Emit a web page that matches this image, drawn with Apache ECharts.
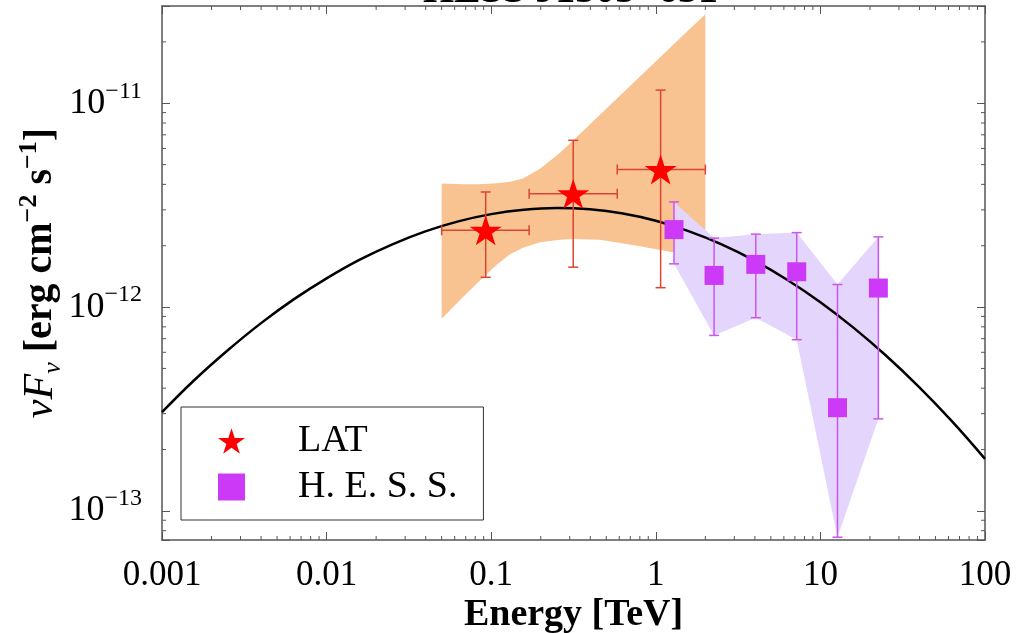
<!DOCTYPE html>
<html>
<head>
<meta charset="utf-8">
<script src="https://cdn.jsdelivr.net/npm/echarts@6/dist/echarts.min.js"></script>
<style>
  html, body { margin: 0; padding: 0; background: #fff; }
  #main { width: 1025px; height: 633px; }
</style>
</head>
<body>
<div id="main"></div>
<script>
// Fermi-LAT points: energy [TeV], flux, error bar ends, energy bin edges
var latE = [0.0926, 0.315, 1.07];
var latF = [2.38e-12, 3.60e-12, 4.73e-12];
var latHi = [3.67e-12, 6.58e-12, 1.16e-11];
var latLo = [1.40e-12, 1.57e-12, 1.245e-12];
var latEmin = [0.050, 0.170, 0.583];
var latEmax = [0.170, 0.583, 2.0];

// H.E.S.S. points
var hessE = [1.29, 2.26, 4.05, 7.18, 12.7, 22.5];
var hessF = [2.40e-12, 1.43e-12, 1.62e-12, 1.49e-12, 3.21e-13, 1.24e-12];
var hessHi = [3.28e-12, 2.18e-12, 2.28e-12, 2.32e-12, 1.29e-12, 2.21e-12];
var hessLo = [1.63e-12, 7.26e-13, 8.87e-13, 6.92e-13, 7.43e-14, 2.83e-13];

// LAT butterfly (orange band)
var bandE = [0.0500, 0.0674, 0.0855, 0.1084, 0.1301, 0.1560, 0.1980, 0.2618, 0.3153, 0.4581, 0.8017, 1.403, 2.0];
var bandHi = [4.04e-12, 4.00e-12, 4.00e-12, 4.05e-12, 4.12e-12, 4.28e-12, 4.77e-12, 5.71e-12, 6.58e-12, 8.78e-12, 1.352e-11, 2.084e-11, 2.735e-11];
var bandLo = [8.77e-13, 1.12e-12, 1.352e-12, 1.62e-12, 1.815e-12, 1.954e-12, 2.08e-12, 2.14e-12, 2.155e-12, 2.14e-12, 1.986e-12, 1.834e-12, 1.795e-12];

// model curve (black)
var modelE = [0.001, 0.00158, 0.00251, 0.00398, 0.00631, 0.01, 0.0158, 0.0251, 0.0398, 0.0631, 0.1, 0.158, 0.251,
  0.398, 0.631, 1, 1.58, 2.51, 3.98, 6.31, 10, 15.8, 25.1, 39.8, 63.1, 100];
var modelF = [3.05e-13, 4.40e-13, 6.14e-13, 8.32e-13, 1.091e-12, 1.384e-12, 1.705e-12, 2.033e-12, 2.352e-12, 2.634e-12, 2.858e-12, 3.004e-12, 3.062e-12,
  3.017e-12, 2.877e-12, 2.652e-12, 2.360e-12, 2.033e-12, 1.692e-12, 1.359e-12, 1.057e-12, 7.95e-13, 5.77e-13, 4.05e-13, 2.75e-13, 1.80e-13];

// axes
var xMin = 0.001, xMax = 100;
var yMin = 7.2e-14, yMax = 3.0e-11;
var xTickValues = [0.001, 0.01, 0.1, 1, 10, 100];
var xTickLabels = ['0.001', '0.01', '0.1', '1', '10', '100'];
var yTickValues = [1e-13, 1e-12, 1e-11];
var yTickExp = ['\u221213', '\u221212', '\u221211'];

var FONT = '"Liberation Serif", "DejaVu Serif", serif';
var STAR = 'path://M0,-1L0.2245,-0.309L0.951,-0.309L0.363,0.118L0.588,0.809L0,0.382L-0.588,0.809L-0.363,0.118L-0.951,-0.309L-0.2245,-0.309Z';
var FRAME = '#555';

function tickIndex(list, v) {
  for (var i = 0; i < list.length; i++) {
    if (Math.abs(Math.log10(v) - Math.log10(list[i])) < 1e-6) return i;
  }
  return -1;
}

// minor tick positions (2..9 of each decade)
var minorX = [], minorY = [];
for (var k = -3; k < 2; k++) for (var m = 2; m <= 9; m++) minorX.push(m * Math.pow(10, k));
for (k = -14; k < -10; k++) for (m = 2; m <= 9; m++) {
  var mv = m * Math.pow(10, k);
  if (mv > yMin && mv < yMax) minorY.push(mv);
}

var chart = echarts.init(document.getElementById('main'));

function bandSeries(E, lo, hi, color, z) {
  return {
    type: 'custom', z: z, silent: true,
    data: [[E[0], lo[0]]],
    renderItem: function (params, api) {
      var pts = [];
      for (var i = 0; i < E.length; i++) pts.push(api.coord([E[i], hi[i]]));
      for (i = E.length - 1; i >= 0; i--) pts.push(api.coord([E[i], lo[i]]));
      return { type: 'polygon', shape: { points: pts }, style: { fill: color } };
    }
  };
}

function errorSeries(E, F, lo, hi, eMin, eMax, color, cap, z) {
  return {
    type: 'custom', z: z, silent: true,
    data: E.map(function (e, i) {
      return [e, F[i], lo[i], hi[i], eMin ? eMin[i] : e, eMax ? eMax[i] : e];
    }),
    renderItem: function (params, api) {
      var x = api.value(0), f = api.value(1);
      var top = api.coord([x, api.value(3)]);
      var bot = api.coord([x, api.value(2)]);
      var lft = api.coord([api.value(4), f]);
      var rgt = api.coord([api.value(5), f]);
      var st = { stroke: color, lineWidth: 1.5 };
      var kids = [
        { type: 'line', shape: { x1: top[0], y1: top[1], x2: bot[0], y2: bot[1] }, style: st },
        { type: 'line', shape: { x1: top[0] - cap, y1: top[1], x2: top[0] + cap, y2: top[1] }, style: st },
        { type: 'line', shape: { x1: bot[0] - cap, y1: bot[1], x2: bot[0] + cap, y2: bot[1] }, style: st }
      ];
      if (rgt[0] - lft[0] > 1) {
        kids.push({ type: 'line', shape: { x1: lft[0], y1: lft[1], x2: rgt[0], y2: rgt[1] }, style: st });
        kids.push({ type: 'line', shape: { x1: lft[0], y1: lft[1] - cap, x2: lft[0], y2: lft[1] + cap }, style: st });
        kids.push({ type: 'line', shape: { x1: rgt[0], y1: rgt[1] - cap, x2: rgt[0], y2: rgt[1] + cap }, style: st });
      }
      return { type: 'group', children: kids };
    }
  };
}

var minorSeries = {
  type: 'custom', z: 6, silent: true,
  data: [[1, 1e-12]],
  renderItem: function (params, api) {
    var cs = params.coordSys, kids = [], st = { stroke: FRAME, lineWidth: 1 };
    var L = 4;
    minorX.forEach(function (v) {
      var px = api.coord([v, 1e-12])[0];
      kids.push({ type: 'line', shape: { x1: px, y1: cs.y + cs.height, x2: px, y2: cs.y + cs.height - L }, style: st });
      kids.push({ type: 'line', shape: { x1: px, y1: cs.y, x2: px, y2: cs.y + L }, style: st });
    });
    minorY.forEach(function (v) {
      var py = api.coord([1, v])[1];
      kids.push({ type: 'line', shape: { x1: cs.x, y1: py, x2: cs.x + L, y2: py }, style: st });
      kids.push({ type: 'line', shape: { x1: cs.x + cs.width, y1: py, x2: cs.x + cs.width - L, y2: py }, style: st });
    });
    return { type: 'group', children: kids };
  }
};

function axisBase(min, max) {
  return {
    type: 'log', min: min, max: max, logBase: 10,
    axisLine: { show: true, lineStyle: { color: FRAME, width: 1.5 } },
    axisTick: { show: true, inside: true, length: 8, lineStyle: { color: FRAME, width: 1 } },
    splitLine: { show: false },
    minorTick: { show: false }
  };
}

var xBottom = axisBase(xMin, xMax);
xBottom.position = 'bottom';
xBottom.name = 'Energy [TeV]';
xBottom.nameLocation = 'middle';
xBottom.nameGap = 55;
xBottom.nameMoveOverlap = false;
xBottom.nameTextStyle = { fontFamily: FONT, fontSize: 38, fontWeight: 'bold', color: '#000', lineHeight: 40 };
xBottom.axisLabel = {
  margin: 18, fontFamily: FONT, fontSize: 35, color: '#000',
  formatter: function (v) { var i = tickIndex(xTickValues, v); return i < 0 ? '' : xTickLabels[i]; }
};
var xTop = axisBase(xMin, xMax);
xTop.position = 'top';
xTop.axisLabel = { show: false };

var yLeft = axisBase(yMin, yMax);
yLeft.position = 'left';
yLeft.name = '{i|\u03bdF}{sub|\u03bd}{b| [erg cm}{sup|\u22122}{b| s}{sup|\u22121}{b|]}';
yLeft.nameLocation = 'middle';
yLeft.nameGap = 96;
yLeft.nameMoveOverlap = false;
yLeft.nameTextStyle = {
  color: '#000', fontFamily: FONT,
  rich: {
    i: { fontFamily: FONT, fontStyle: 'italic', fontSize: 42, lineHeight: 50, color: '#000' },
    sub: { fontFamily: FONT, fontStyle: 'italic', fontSize: 26, lineHeight: 34, verticalAlign: 'bottom', color: '#000' },
    b: { fontFamily: FONT, fontWeight: 'bold', fontSize: 40, lineHeight: 50, color: '#000' },
    sup: { fontFamily: FONT, fontWeight: 'bold', fontSize: 26, lineHeight: 28, verticalAlign: 'top', color: '#000' }
  }
};
yLeft.axisLabel = {
  margin: 20,
  formatter: function (v) { var i = tickIndex(yTickValues, v); return i < 0 ? '' : '{b|10}{s|' + yTickExp[i] + '}'; },
  rich: {
    b: { fontFamily: FONT, fontSize: 36, lineHeight: 48, color: '#000' },
    s: { fontFamily: FONT, fontSize: 24, lineHeight: 26, verticalAlign: 'top', color: '#000' }
  }
};
var yRight = axisBase(yMin, yMax);
yRight.position = 'right';
yRight.axisLabel = { show: false };

var option = {
  backgroundColor: '#fff',
  animation: false,
  title: {
    text: 'HESS J1303\u2212631', left: 418, top: -33,
    textStyle: { fontFamily: FONT, fontSize: 40, fontWeight: 'bold', color: '#000' }
  },
  grid: { left: 162, right: 40, top: 6, bottom: 93, containLabel: false, outerBoundsMode: 'none' },
  xAxis: [xBottom, xTop],
  yAxis: [yLeft, yRight],
  legend: {
    orient: 'vertical', left: 181, top: 407,
    padding: [15, 26, 14, 37], itemGap: 8,
    itemWidth: 27, itemHeight: 27,
    borderColor: '#333', borderWidth: 1, backgroundColor: '#fff',
    data: [{ name: 'LAT', icon: STAR }, { name: 'H. E. S. S.', icon: 'rect' }],
    formatter: '{t|{name}}',
    textStyle: {
      rich: { t: { fontFamily: FONT, fontSize: 38, lineHeight: 40, color: '#000', padding: [0, 0, 0, 48] } }
    }
  },
  series: [
    bandSeries(bandE, bandLo, bandHi, '#f8c291', 1),
    bandSeries(hessE, hessLo, hessHi, '#e3d5fb', 2),
    {
      type: 'line', z: 3, silent: true, smooth: 0.4, showSymbol: false,
      data: modelE.map(function (e, i) { return [e, modelF[i]]; }),
      lineStyle: { color: '#000', width: 2.5 }
    },
    errorSeries(latE, latF, latLo, latHi, latEmin, latEmax, '#dd4433', 5, 4),
    errorSeries(hessE, hessF, hessLo, hessHi, null, null, '#cc55ee', 5, 4),
    {
      name: 'LAT', type: 'scatter', z: 5, symbol: STAR, symbolSize: [32, 30],
      itemStyle: { color: '#ff0000', opacity: 1 },
      data: latE.map(function (e, i) { return [e, latF[i]]; })
    },
    {
      name: 'H. E. S. S.', type: 'scatter', z: 5, symbol: 'rect', symbolSize: 19,
      itemStyle: { color: '#cc3af7', opacity: 1 },
      data: hessE.map(function (e, i) { return [e, hessF[i]]; })
    },
    minorSeries
  ]
};

chart.setOption(option);
</script>
</body>
</html>
